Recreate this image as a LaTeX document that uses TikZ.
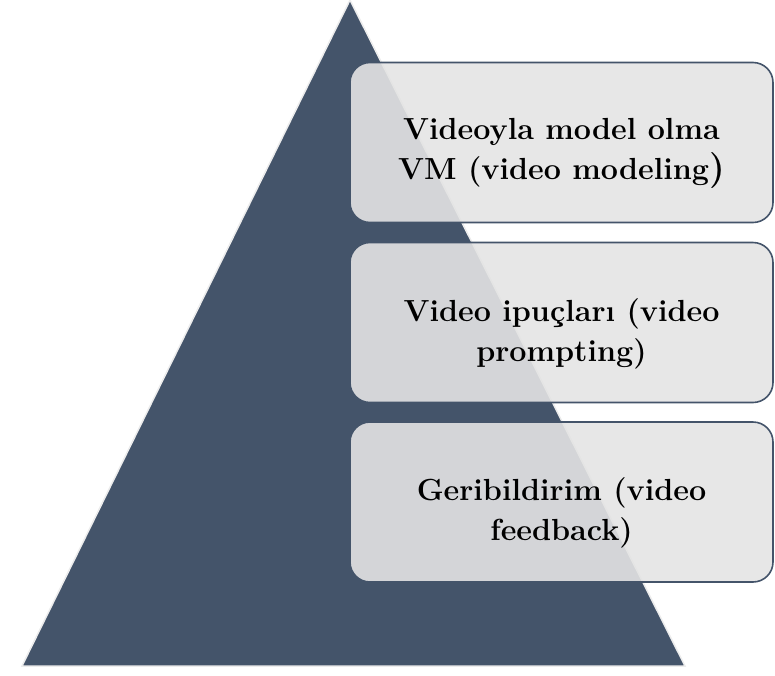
\documentclass[tikz,border=0pt]{standalone}
\usepackage{tikz}
\definecolor{slate}{HTML}{44546A}
\definecolor{boxgray}{HTML}{E4E4E4}
\tikzset{
   stage/.style={draw=slate,line width=1.6pt,fill=boxgray,fill opacity=0.9,
      rounded corners=20pt,minimum width=423pt,minimum height=160pt},
   stagetext/.style={align=center,font=\fontsize{30.5}{40}\selectfont\bfseries,yshift=-11pt}
}

\begin{document}
\begin{tikzpicture}[x=1pt,y=-1pt]
   \useasboundingbox (0,0) rectangle (775,675);
   \fill[slate,draw=gray!15,line width=1.5pt] (350,0) -- (22,666) -- (685,666) -- cycle;
   \node[stage] (vm) at (561.5,142.5) {};
   \node[stage] (vp) at (561.5,322.5) {};
   \node[stage] (vf) at (561.5,502) {};
   \node[stagetext] (vmtext) at (vm.center) {Videoyla model olma\\VM (video modeling{\fontsize{36}{40}\selectfont )}};
   \node[stagetext] (vptext) at (vp.center) {Video ipuçları (video\\prompting)};
   \node[stagetext] (vftext) at (vf.center) {Geribildirim (video\\feedback)};
  \end{tikzpicture}
\end{document}
